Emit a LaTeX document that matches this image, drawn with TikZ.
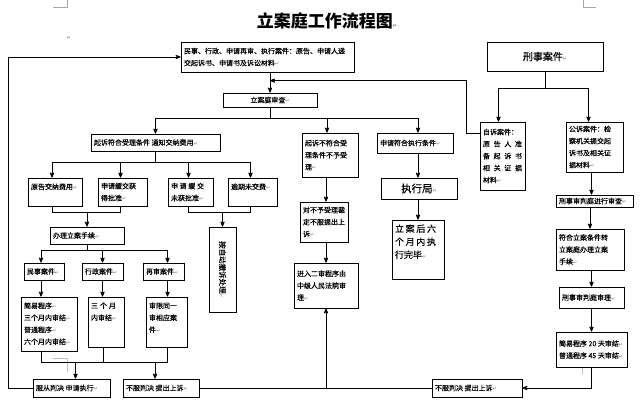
\documentclass[tikz,border=0pt]{standalone}
\usepackage{fontspec}
\setmainfont{Noto Sans CJK SC}
\newfontfamily\boxfont{Noto Sans CJK SC}[FakeBold=0.4]
\newfontfamily\markfont{DejaVu Sans}
\usepackage{tikz}
\usetikzlibrary{arrows, positioning}
\newcommand{\retmk}{{\markfont\fontsize{5}{5}\selectfont\color{black!55}↵}}
\newcommand{\inbox}[4][c]{\parbox[c][\dimexpr#3pt-6pt\relax][#1]{\dimexpr#2pt-6pt\relax}{\raggedright#4}}
\newcommand{\spr}[2][\linewidth]{\leavevmode\hbox to #1{#2}}

\begin{document}
\begin{tikzpicture}[x=1pt, y=-1pt,
			->,
			>=stealth',
			thick,
			box/.style={draw, thick, inner xsep=3pt, inner ysep=3pt, font=\boxfont\fontsize{7}{12}\selectfont},
			pagemark/.style={-, thin, black!35}]
			
			\useasboundingbox (0,0) rectangle (640,407);
			
			\draw[pagemark] (53,7) -- (67,7) -- (67,0);
			\draw[pagemark] (583,0) -- (583,7) -- (596,7);
			\draw[pagemark, black!25] (53,358) -- (67,358) -- (67,372);
			\draw[pagemark, black!25] (582,367) -- (582,374);
			\node (pmark) at (69,38) {\retmk};
			
			\node (title) at (327,21) {\fontsize{17}{17}\selectfont\bfseries 立案庭工作流程图\retmk};
			
			\node[box] (src) at (267.5,57) {\inbox{173}{30}{民事、行政、申请再审、执行案件：原告、申请人递\\交起诉书、申请书及诉讼材料\retmk}};
			\node[box] (review) at (270,100) {\inbox{94}{14}{\centering 立案庭审查\retmk}};
			\node[box] (accept) at (155.5,142.5) {\inbox{129}{17}{起诉符合受理条件 通知交纳费用\retmk}};
			\node[box] (reject) at (330,155) {\inbox{56}{44}{起诉不符合受\\理条件不予受\\理\retmk}};
			\node[box] (exec) at (415,143) {\inbox{76}{20}{申请符合执行条件\retmk}};
			
			\node[box] (crim) at (545,56.5) {\inbox{116}{29}{\centering\fontsize{10}{12}\selectfont 刑事案件\retmk}};
			\node[box] (self) at (502.5,156) {\inbox{45}{68}{自诉案件：\\\spr{原\hfil 告\hfil 人\hfil 准}\\\spr{备\hfil 起\hfil 诉\hfil 书}\\\spr{相\hfil 关\hfil 证\hfil 据}\\材料\retmk}};
			\node[box] (pub) at (594.5,147) {\inbox{57}{50}{公诉案件：检\\察机关提交起\\诉书及相关证\\据材料\retmk}};
			\node[box] (exam) at (594.5,201) {\inbox{77}{12}{刑事审判庭进行审查\retmk}};
			\node[box] (conv) at (590,249.5) {\inbox{68}{41}{符合立案条件转\\立案庭办理立案\\手续\retmk}};
			\node[box] (trial) at (591.5,297.5) {\inbox{65}{21}{刑事审判庭审理\retmk}};
			\node[box] (term) at (591.5,349.5) {\inbox{71}{35}{简易程序 20 天审结\retmk\\普通程序 45 天审结\retmk}};
			
			\node[box] (pay) at (55,192) {\inbox[t]{54}{28}{\strut 原告交纳费用\retmk}};
			\node[box] (defer) at (122.5,192) {\inbox{49}{28}{申请缓交获\\得批准\retmk}};
			\node[box] (deny) at (190.5,192) {\inbox{45}{28}{\spr[33pt]{申\hfil 请\hfil 缓\hfil 交}\\未获批准\retmk}};
			\node[box] (late) at (252.5,192) {\inbox[t]{49}{28}{\strut 逾期未交费\retmk}};
			
			\node[box] (file) at (87,235.5) {\inbox{74}{17}{办理立案手续\retmk}};
			\node[box, minimum width=27, minimum height=85] (drop) at (222.5,269.5) {};
			\node[rotate=-90, font=\boxfont\fontsize{7.5}{8}\selectfont] (droptxt) at (drop.center) {按自动撤诉处理\retmk};
			
			\node[box] (civil) at (44,271.5) {\inbox{40}{17}{民事案件\retmk}};
			\node[box] (admin) at (102.5,271.5) {\inbox{41}{17}{行政案件\retmk}};
			\node[box] (retry) at (163.5,271.5) {\inbox{41}{17}{再审案件\retmk}};
			\node[box] (civT) at (49,324) {\inbox[t]{56}{54}{\strut 简易程序\retmk\\三个月内审结\retmk\\普通程序\retmk\\六个月内审结\retmk}};
			\node[box] (admT) at (106,322) {\inbox[t]{36}{50}{\strut\spr[25pt]{三\hfil 个\hfil 月}\\内审结\retmk}};
			\node[box] (retT) at (166.5,322) {\inbox[t]{41}{50}{\strut 审限同一\\审相应案\\件\retmk}};
			
			\node[box] (obey) at (71.5,388) {\inbox{77}{18}{服从判决 申请执行\retmk}};
			\node[box] (ap1) at (161,388) {\inbox{76}{18}{不服判决 提出上诉\retmk}};
			\node[box] (ap2) at (477,388) {\inbox{90}{18}{不服判决 提出上诉\retmk}};
			
			\node[box] (rej2) at (324,222) {\inbox{48}{40}{对不予受理裁\\定不服提出上\\诉\retmk}};
			\node[box] (ap2nd) at (326,285.5) {\inbox{64}{45}{进入二审程序由\\中级人民法院审\\理\retmk}};
			
			\node[box] (bureau) at (419,188.5) {\inbox{76}{21}{\centering\fontsize{10.5}{12}\selectfont 执行局\retmk}};
			\node[box] (done) at (418,249.5) {\inbox[t]{52}{59}{\fontsize{9}{13}\selectfont\strut\spr[41pt]{立\hfil 案\hfil 后\hfil 六}\\\spr[41pt]{个\hfil 月\hfil 内\hfil 执}\\行完毕\retmk}};
			
			\draw (src.south -| review.north) -- (review.north);
			\draw ([yshift=-12pt]self.north west) -- ++(-13,0) |- ([yshift=12pt]review.north);
			\draw (obey.west) -- ++(-24,0) |- (src.west);
			
			\path (review.south) ++(0,11) coordinate (jr);
			\draw[-] (review.south) -- (jr);
			\draw (jr) -| (accept.north);
			\draw (jr) -| ([xshift=-3pt]reject.north);
			\draw (jr) -| ([xshift=3pt]exec.north);
			
			\draw (reject.south -| ap2nd.north) -- (rej2.north -| ap2nd.north);
			\draw (rej2.south -| ap2nd.north) -- (ap2nd.north);
			\draw (exec.south -| done.north) -- (bureau.north -| done.north);
			\draw (bureau.south -| done.north) -- (done.north);
			
			\path (crim.south) ++(0,17) coordinate (jc);
			\draw[-] (crim.south) -- (jc);
			\draw (jc) -| ([xshift=-4pt]self.north);
			\draw (jc) -| ([xshift=-6pt]pub.north);
			\draw (pub.south) ++(-3,0) coordinate (p1) -- (p1 |- exam.north);
			\draw (exam.south -| conv.north) -- (conv.north);
			\draw (conv.south -| trial.north) -- (trial.north);
			\draw (trial.south) -- (trial.south |- term.north);
			\draw (term.south) |- (ap2.east);
			
			\path (accept.south) ++(0,11) coordinate (ja);
			\draw[-] (accept.south) -- (ja);
			\draw (ja) -| ([xshift=-3pt]pay.north);
			\draw (ja) -| ([xshift=-2pt]defer.north);
			\draw (ja) -| ([xshift=-2pt]deny.north);
			\draw (ja) -| ([xshift=-2pt]late.north);
			
			\draw[-] ([xshift=-3pt]pay.south) -- ++(0,6) coordinate (jp) -| ([xshift=-2pt]defer.south);
			\draw (jp -| file.north) -- (file.north);
			\draw[-] ([xshift=-2pt]deny.south) -- ++(0,6) coordinate (jd) -| ([xshift=-2pt]late.south);
			\draw (jd -| drop.north) -- (drop.north);
			
			\path (file.south) ++(0,6) coordinate (jf);
			\draw[-] (file.south) -- (jf);
			\draw (jf) -| ([xshift=-3pt]civil.north);
			\draw (jf) -| (admin.north);
			\draw (jf) -| ([xshift=4pt]retry.north);
			\draw (civil.south) ++(-3,0) coordinate (c1) -- (c1 |- civT.north);
			\draw (admin.south) -- (admin.south |- admT.north);
			\draw (retry.south) ++(4,0) coordinate (c3) -- (c3 |- retT.north);
			
			\draw[-] (admT.south) ++(-3,0) coordinate (c2) -- ++(0,15) coordinate (jb);
			\draw[-] (c1 |- civT.south) |- (jb) -| (c3 |- retT.south);
			\draw (jb -| obey.north) ++(4,0) coordinate (c4) -- (c4 |- obey.north);
			\draw (jb -| ap1.north) ++(-6,0) coordinate (c5) -- (c5 |- ap1.north);
			
			\draw[-] (ap1.east) -- (ap2.west);
			\draw (ap1.east -| ap2nd.south) -- (ap2nd.south);
		\end{tikzpicture}
\end{document}
